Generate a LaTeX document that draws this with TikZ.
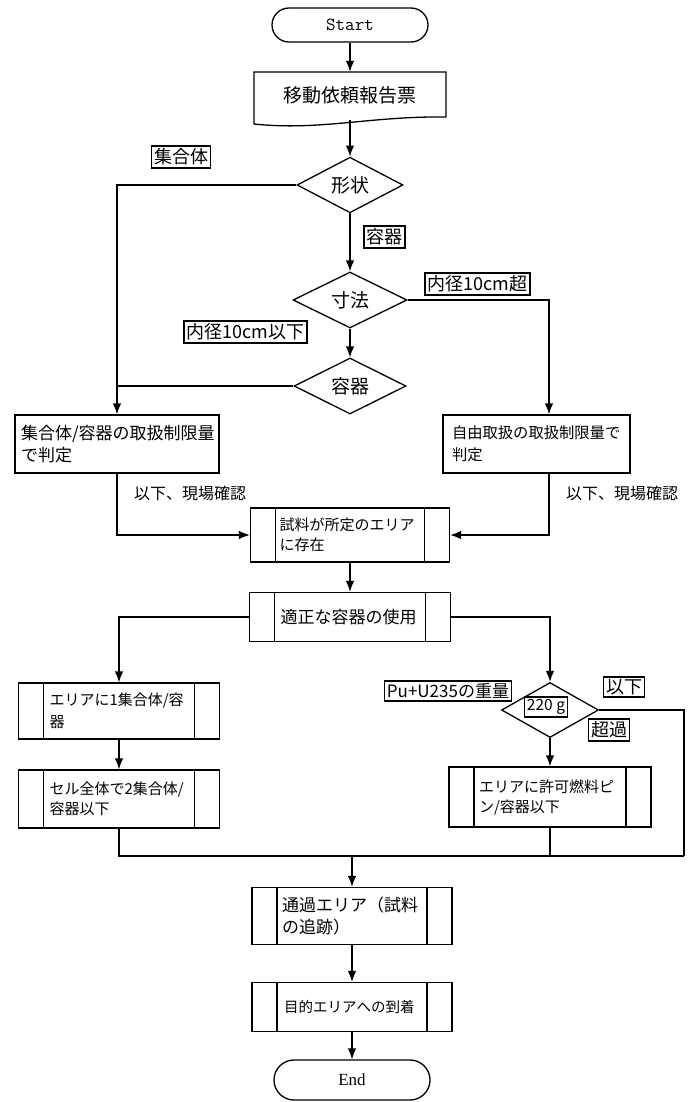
\documentclass[tikz,border=0pt]{standalone}
\usepackage{fontspec}
\newfontfamily\jpfont{Noto Sans CJK JP}
\newfontfamily\rmlatin{Liberation Serif}
\usetikzlibrary{shapes.geometric,arrows.meta,calc}
\newcommand\jpsize[2]{\jpfont\fontsize{#1}{#2}\selectfont}

\tikzset{
  lw/.style={line width=1.3pt},
  conn/.style={lw},
  arr/.style={lw, -{Latex[length=11pt,width=8.5pt]}},
  term/.style={draw, lw, rectangle, rounded corners=#1, minimum width=156pt,
    minimum height={2*#1}, inner sep=0pt},
  dec/.style={draw, lw, diamond, inner sep=0pt, font=\jpsize{19}{19}},
  lbl/.style={draw, line width=1.8pt, inner sep=2.5pt, font=\jpsize{18}{18}},
  note/.style={inner sep=0pt, font=\jpsize{16}{16}},
  box/.style={draw, lw, rectangle, inner sep=0pt, align=left},
  proc/.style={box, path picture={
    \draw[lw] ([xshift=25pt]path picture bounding box.north west) --
              ([xshift=25pt]path picture bounding box.south west);
    \draw[lw] ([xshift=-25pt]path picture bounding box.north east) --
              ([xshift=-25pt]path picture bounding box.south east);}}
}

\begin{document}
\begin{tikzpicture}[x=1pt, y=-1pt]
\useasboundingbox (0,0) rectangle (692,1102);
\fill[white] (0,0) rectangle (692,1102);

% start and request document
\node[term=17pt, font=\ttfamily\fontsize{18.5}{18.5}\selectfont] (start) at (350,25) {Start};
\draw[lw] (254,72) -- (446,72) -- (446,117)
  .. controls (370,116) and (320,131) .. (254,124) -- cycle;
\node[minimum width=192pt, minimum height=48pt, inner sep=0pt, font=\jpsize{19}{19}]
  (doc) at (350,96) {\raisebox{3pt}{移動依頼報告票}};

% decisions
\node[dec, minimum width=106pt, minimum height=54pt] (d1) at (350,185) {形状};
\node[dec, minimum width=114pt, minimum height=56pt] (d2) at (350,300) {寸法};
\node[dec, minimum width=112pt, minimum height=56pt] (d3) at (350,386) {容器};
\node[dec, minimum width=97pt, minimum height=55pt] (d4) at (550,710) {};

% judgement boxes
\node[box, minimum width=204pt, minimum height=58pt, text width=192pt, font=\jpsize{17}{22}]
  (L1) at (117,444) {集合体/容器の取扱制限量\\で判定};
\node[box, minimum width=187pt, minimum height=58pt, text width=169pt, font=\jpsize{15.3}{22}]
  (R1) at (536.5,444) {自由取扱の取扱制限量で\\判定};
\node[note] (n1) at (190,493) {以下、現場確認};
\node[note] (n2) at (622,493) {以下、現場確認};

% predefined processes
\node[proc, minimum width=199pt, minimum height=54pt, text width=141pt, font=\jpsize{15}{20}]
  (P1) at (350,535) {試料が所定のエリア\\に存在};
\node[proc, minimum width=201pt, minimum height=49pt, text width=139pt, font=\jpsize{17}{21}]
  (P2) at (350,617) {適正な容器の使用};
\node[proc, minimum width=201pt, minimum height=56pt, text width=139pt, font=\jpsize{15}{22}]
  (L2) at (119,711) {エリアに1集合体/容\\器};
\node[proc, minimum width=201pt, minimum height=58pt, text width=139pt, font=\jpsize{15}{20}]
  (L3) at (119,799) {セル全体で2集合体/\\容器以下};
\node[proc, minimum width=202pt, minimum height=60pt, text width=142pt, font=\jpsize{15}{20}]
  (R3) at (550,797) {エリアに許可燃料ピ\\ン/容器以下};
\node[proc, minimum width=200pt, minimum height=57pt, text width=140pt, font=\jpsize{17}{22}]
  (P3) at (352,916) {通過エリア（試料\\の追跡）};
\node[proc, minimum width=200pt, minimum height=49pt, text width=136pt, font=\jpsize{14.5}{18}]
  (P4) at (352,1007) {目的エリアへの到着};
\node[term=20pt, font=\rmlatin\fontsize{17}{17}\selectfont] (end) at (352,1080) {End};

% branch labels
\node[lbl] (lbA) at (181,157) {集合体};
\node[lbl] (lbB) at (384.5,237) {容器};
\node[lbl] (lbC) at (477.5,284) {内径10cm超};
\node[lbl] (lbD) at (245.5,332) {内径10cm以下};
\node[lbl, font=\jpsize{17}{17}] (lbE) at (448,691) {Pu+U235の重量};
\node[lbl] (lbF) at (624,687) {以下};
\node[lbl] (lbG) at (609,730) {超過};
\node[lbl, font=\jpsize{15.5}{15.5}] (lbH) at (546,707) {220 g};

% helper points
\coordinate (r1in) at ($(R1.north)+(12.5,0)$);
\coordinate (r1out) at ($(R1.south)+(12.5,0)$);
\coordinate (mR) at (684,856);

% connectors
\draw[arr] (start) -- (doc);
\draw[arr] (doc.south) -- (d1.north);
\draw[arr] (d1.west) -| (L1.north);
\draw[arr] (d1.south) -- (d2.north);
\draw[arr] (d2.east) -| (r1in);
\draw[arr] (d2.south) -- (d3.north);
\draw[conn] (d3.west) -- (d3.west -| L1.north);
\draw[arr] (L1.south) |- (P1.west);
\draw[arr] (r1out) |- (P1.east);
\draw[arr] (P1) -- (P2);
\draw[arr] (P2.west) -| (L2.north);
\draw[arr] (P2.east) -| (d4.north);
\draw[arr] (L2) -- (L3);
\draw[arr] (d4) -- (R3);
\draw[conn] (L3.south) |- (mR);
\draw[conn] (d4.east) -| (mR);
\draw[conn] (R3.south) -- (R3.south |- mR);
\draw[arr] (P3.north |- mR) -- (P3.north);
\draw[arr] (P3) -- (P4);
\draw[arr] (P4) -- (end);
\end{tikzpicture}
\end{document}
